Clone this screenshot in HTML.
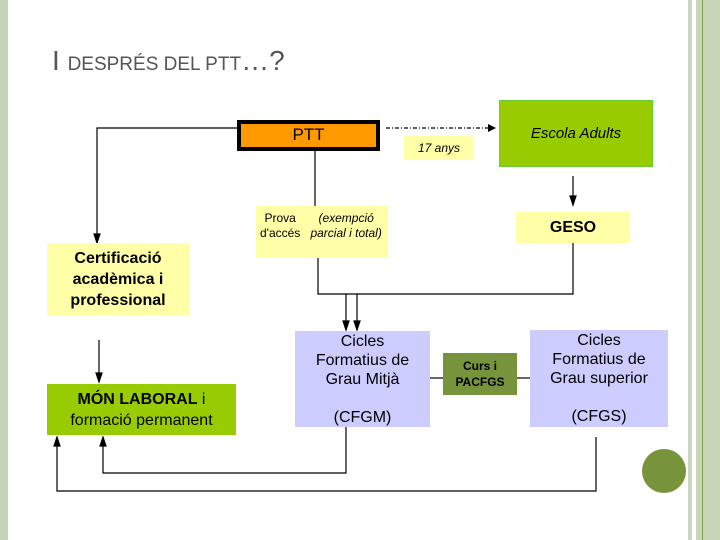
<!DOCTYPE html>
<html><head><meta charset="utf-8"><style>
body{margin:0;width:720px;height:540px;background:#fff;position:relative;overflow:hidden;font-family:"Liberation Sans",sans-serif}
.b{position:absolute;display:flex;align-items:center;justify-content:center;text-align:center;box-sizing:border-box;color:#000}
</style></head><body>
<div style="position:absolute;left:0;top:0;width:8px;height:540px;background:#c5d3b8"></div>
<div style="position:absolute;left:688px;top:0;width:4px;height:540px;background:#cad6bf"></div>
<div style="position:absolute;left:696px;top:0;width:24px;height:540px;background:#c8d5b9"></div>
<div style="position:absolute;left:702px;top:0;width:1px;height:540px;background:#7aa050"></div>
<div style="position:absolute;left:52px;top:44px;color:#555;font-size:28px;line-height:34px">I <span style="font-size:19px">DESPRÉS DEL PTT</span>…?</div>

<svg width="720" height="540" style="position:absolute;left:0;top:0">
<defs><marker id="a" markerWidth="6" markerHeight="8" refX="3" refY="8" orient="auto-start-reverse" markerUnits="userSpaceOnUse"><path d="M0,0 L6,0 L3,8z" fill="#000" transform="rotate(0)"/></marker></defs>
<g stroke="#000" stroke-width="1.2" fill="none">
<polyline points="237,128 97,128 97,243"/>
<path d="M94,234 L100,234 L97,243z" fill="#000"/>
<line x1="315" y1="150" x2="315" y2="206"/>
<polyline points="318,258 318,294 573,294 573,243"/>
<line x1="346" y1="294" x2="346" y2="330"/><path d="M343,321 L349,321 L346,330z" fill="#000"/>
<line x1="357" y1="294" x2="357" y2="330"/><path d="M354,321 L360,321 L357,330z" fill="#000"/>
<line x1="573" y1="176" x2="573" y2="205"/><path d="M570,196 L576,196 L573,205z" fill="#000"/>
<line x1="99" y1="340" x2="99" y2="382"/><path d="M96,373 L102,373 L99,382z" fill="#000"/>
<polyline points="346,427 346,473 103,473 103,437"/><path d="M100,446 L106,446 L103,437z" fill="#000"/>
<polyline points="596,437 596,491 57,491 57,437"/><path d="M54,446 L60,446 L57,437z" fill="#000"/>
<line x1="430" y1="378" x2="443" y2="378"/><line x1="517" y1="378" x2="530" y2="378"/>
<line x1="386" y1="128" x2="490" y2="128" stroke-dasharray="4,2,1,2"/>
</g>
<path d="M488,124 L496,128 L488,132z" fill="#000"/>
<circle cx="664" cy="471" r="22" fill="#77933c"/>
</svg>

<div class="b" style="left:237px;top:120px;width:143px;height:31px;background:#ff9900;border:4px solid #000;font-size:17px;align-items:flex-start;padding-top:1px">PTT</div>
<div class="b" style="left:404px;top:136px;width:70px;height:24px;background:#ffffa8;font-size:12px;font-style:italic">17 anys</div>
<div class="b" style="left:499px;top:100px;width:154px;height:67px;background:#99cc00;border:1px solid #6c3;font-size:15px;font-style:italic">Escola Adults</div>
<div class="b" style="left:516px;top:212px;width:114px;height:31px;background:#ffffa8;font-size:16px;font-weight:bold">GESO</div>
<div class="b" style="left:256px;top:206px;width:132px;height:52px;background:#ffffa8;font-size:12px;line-height:15px;align-items:flex-start;padding-top:5px">Prova d'accés<br><i>(exempció parcial i total)</i></div>
<div class="b" style="left:47px;top:243px;width:142px;height:72px;background:#ffffa8;font-size:16px;font-weight:bold;line-height:21px">Certificació acadèmica i professional</div>
<div class="b" style="left:47px;top:384px;width:189px;height:51px;background:#99cc00;font-size:16px;line-height:21px"><span><b>MÓN LABORAL</b> i<br>formació permanent</span></div>
<div class="b" style="left:295px;top:331px;width:135px;height:96px;background:#ccccff;font-size:16px;line-height:19px">Cicles<br>Formatius de<br>Grau Mitjà<br><br>(CFGM)</div>
<div class="b" style="left:443px;top:353px;width:74px;height:42px;background:#77933c;font-size:12px;font-weight:bold;line-height:16px">Curs i<br>PACFGS</div>
<div class="b" style="left:530px;top:330px;width:138px;height:97px;background:#ccccff;font-size:16px;line-height:19px">Cicles<br>Formatius de<br>Grau superior<br><br>(CFGS)</div>
</body></html>
